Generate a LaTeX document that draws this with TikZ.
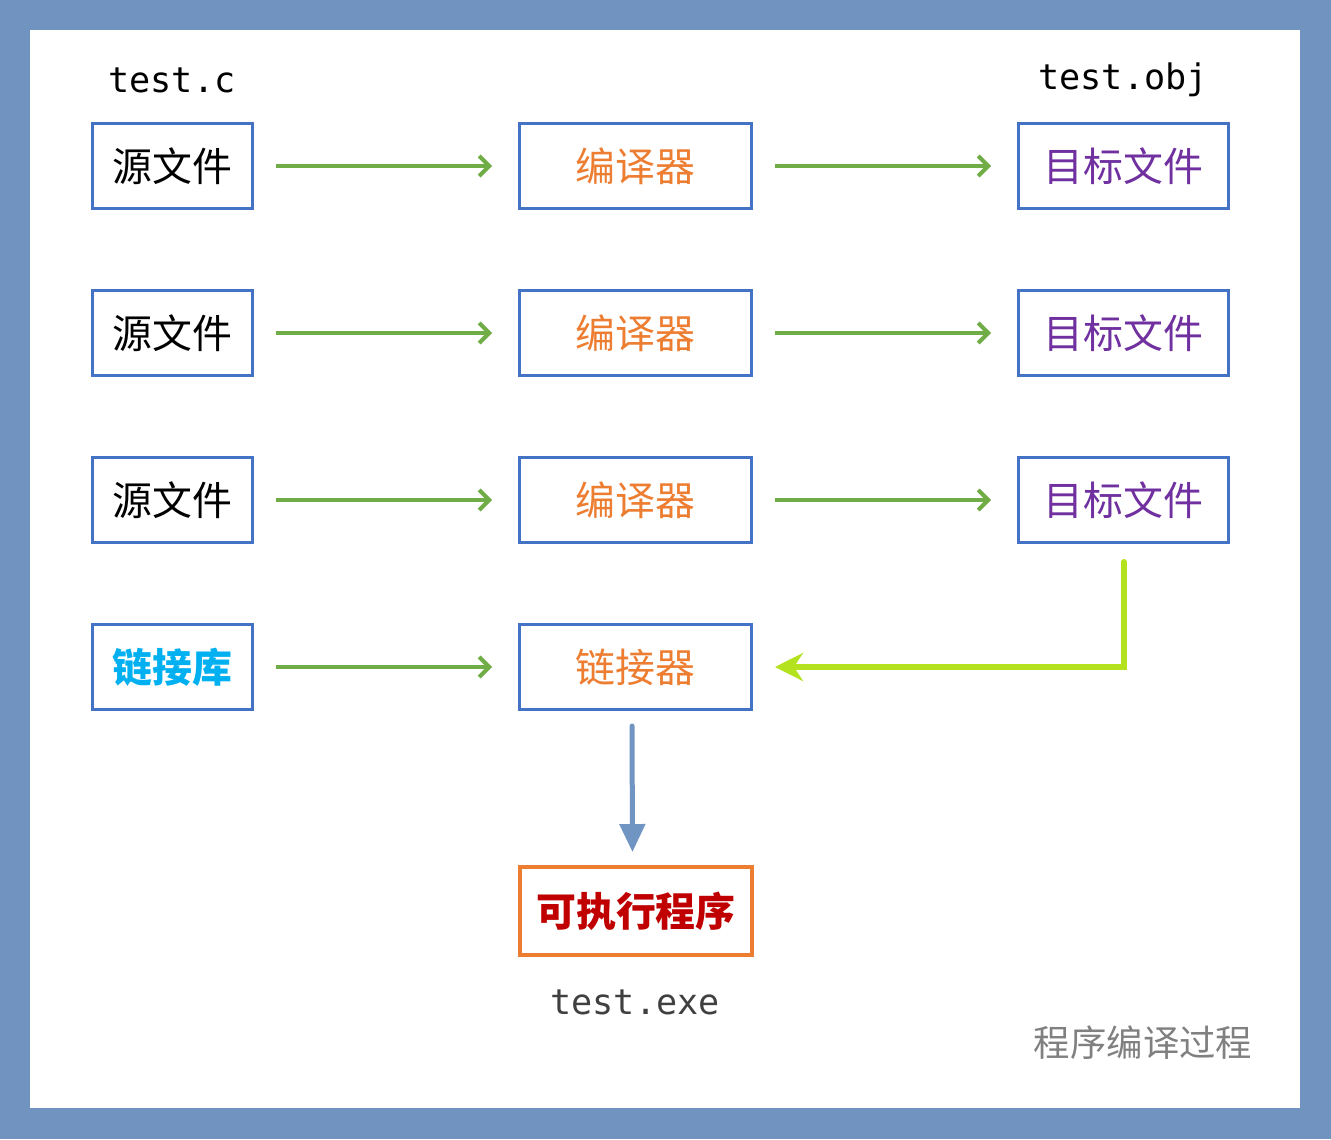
\documentclass[tikz,border=0pt]{standalone}
\usepackage{fontspec}
\setmainfont{Noto Sans CJK SC}
\setmonofont{DejaVu Sans Mono}
\usetikzlibrary{arrows.meta}

\definecolor{frameblue}{HTML}{7093BF}
\definecolor{boxblue}{HTML}{4472C4}
\definecolor{arrowgreen}{HTML}{70AD47}
\definecolor{arrowlime}{HTML}{B5E21E}
\definecolor{arrowsteel}{HTML}{7195C2}
\definecolor{txtorange}{HTML}{ED7D31}
\definecolor{txtpurple}{HTML}{7030A0}
\definecolor{txtcyan}{HTML}{00B0F0}
\definecolor{txtred}{HTML}{C00000}

\tikzset{
  filebox/.style={draw=boxblue, line width=0.06cm, minimum height=1.7cm, font=\fontsize{22.7}{27}\selectfont},
  srcbox/.style={filebox, minimum width=3.2cm},
  toolbox/.style={filebox, minimum width=4.64cm, text=txtorange},
  objbox/.style={filebox, minimum width=4.2cm, text=txtpurple},
  exebox/.style={draw=txtorange, line width=0.08cm, minimum width=4.64cm, minimum height=1.76cm, text=txtred, font=\fontsize{22.7}{27}\selectfont\bfseries},
  fname/.style={font=\fontsize{20}{24}\selectfont\ttfamily},
  flow/.style={draw=arrowgreen, line width=0.08cm, -{Straight Barb[length=0.2cm,width=0.4cm,line width=0.08cm]}, shorten <=0.44cm, shorten >=0.52cm},
}

\begin{document}
\begin{tikzpicture}[x=0.02cm, y=-0.02cm]
		%%%%% START %%%%%
		
		\fill[frameblue] (0, 0) rectangle (1331, 1139);
		\fill[white] (30, 30) rectangle (1300, 1108);
		
		\node[fname] (srcname) at (172, 80) {test.c};
		\node[fname] (objname) at (1123, 80) {test.obj};
		
		\node[srcbox] (src1) at (172.5, 166) {源文件};
		\node[srcbox] (src2) at (172.5, 333) {源文件};
		\node[srcbox] (src3) at (172.5, 500) {源文件};
		\node[srcbox, text=txtcyan, font=\fontsize{22.7}{27}\selectfont\bfseries] (lib) at (172.5, 667) {链接库};
		
		\node[toolbox] (cc1) at (635.5, 166) {编译器};
		\node[toolbox] (cc2) at (635.5, 333) {编译器};
		\node[toolbox] (cc3) at (635.5, 500) {编译器};
		\node[toolbox] (ld) at (635.5, 667) {链接器};
		
		\node[objbox] (obj1) at (1123.5, 166) {目标文件};
		\node[objbox] (obj2) at (1123.5, 333) {目标文件};
		\node[objbox] (obj3) at (1123.5, 500) {目标文件};
		
		\node[exebox] (exe) at (636, 911) {可执行程序};
		\node[fname, text=black!75] (exename) at (635, 1002) {test.exe};
		
		\node[text=black!50, font=\fontsize{20.7}{25}\selectfont] (caption) at (1143, 1043) {程序编译过程};
		
		\draw[flow] (src1) -- (cc1);
		\draw[flow] (src2) -- (cc2);
		\draw[flow] (src3) -- (cc3);
		\draw[flow] (lib) -- (ld);
		\draw[flow] (cc1) -- (obj1);
		\draw[flow] (cc2) -- (obj2);
		\draw[flow] (cc3) -- (obj3);
		
		\draw[arrowlime, line width=0.12cm, line cap=round, -{Stealth[length=0.56cm,width=0.56cm]}, shorten >=0.44cm] ([yshift=-0.36cm]obj3.south) |- (ld.east);
		\draw[arrowsteel, line width=0.1cm, line cap=round, -{Triangle[length=0.56cm,width=0.5cm]}, shorten <=0.3cm, shorten >=0.26cm] ([xshift=-0.07cm]ld.south) -- ([xshift=-0.07cm]exe.north);
		
		%%%%% END %%%%%
\end{tikzpicture}
\end{document}
